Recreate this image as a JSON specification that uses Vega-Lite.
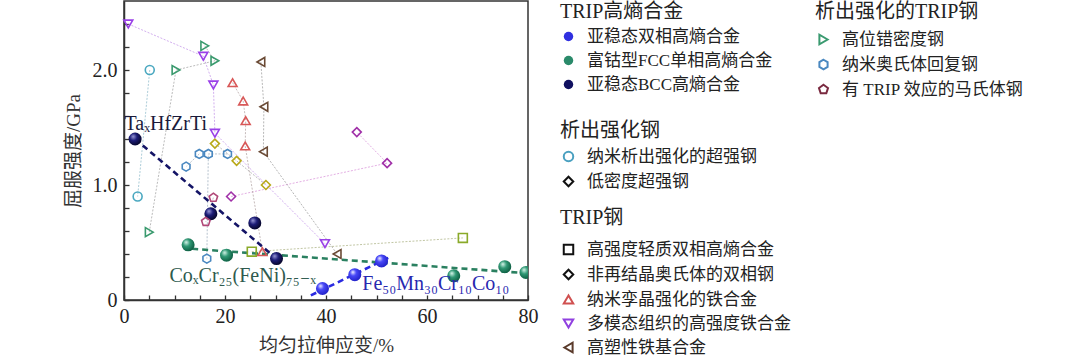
{
  "$schema": "https://vega.github.io/schema/vega-lite/v6.json",
  "width": 404,
  "height": 299,
  "autosize": {"type": "none"},
  "padding": {"left": 124, "top": 1, "right": 552, "bottom": 58},
  "background": "white",
  "config": {
    "view": {"stroke": "#333", "strokeWidth": 1.5},
    "font": "Liberation Serif, Noto Sans CJK SC",
    "axis": {"grid": false, "domainColor": "#333", "domainWidth": 1.5, "tickColor": "#333", "tickWidth": 1.3, "tickSize": -5, "labelFont": "Liberation Serif", "labelFontSize": 20, "labelColor": "#222", "titleFont": "Liberation Serif, Noto Sans CJK SC", "titleFontSize": 19, "titleFontWeight": "normal", "titleColor": "#333"},
    "legend": {"orient": "none", "titleFont": "Liberation Serif, Noto Sans CJK SC", "titleFontSize": 20, "titleFontWeight": "normal", "titleColor": "#222", "labelFont": "Liberation Serif, Noto Sans CJK SC", "labelFontSize": 17, "labelColor": "#222", "symbolStrokeWidth": 2, "symbolSize": 90, "rowPadding": 6, "labelOffset": 10, "padding": 0, "labelLimit": 400}
  },
  "datasets": {
    "pts": [
      {"group": "TRIP高熵合金", "category": "亚稳态双相高熵合金", "series": "", "seq": 1, "strain": 39.3, "strength": 0.10},
      {"group": "TRIP高熵合金", "category": "亚稳态双相高熵合金", "series": "", "seq": 2, "strain": 45.7, "strength": 0.22},
      {"group": "TRIP高熵合金", "category": "亚稳态双相高熵合金", "series": "", "seq": 3, "strain": 51.0, "strength": 0.34},
      {"group": "TRIP高熵合金", "category": "富钴型FCC单相高熵合金", "series": "", "seq": 1, "strain": 12.7, "strength": 0.48},
      {"group": "TRIP高熵合金", "category": "富钴型FCC单相高熵合金", "series": "", "seq": 2, "strain": 20.3, "strength": 0.39},
      {"group": "TRIP高熵合金", "category": "富钴型FCC单相高熵合金", "series": "", "seq": 3, "strain": 65.3, "strength": 0.21},
      {"group": "TRIP高熵合金", "category": "富钴型FCC单相高熵合金", "series": "", "seq": 4, "strain": 75.4, "strength": 0.29},
      {"group": "TRIP高熵合金", "category": "富钴型FCC单相高熵合金", "series": "", "seq": 5, "strain": 79.6, "strength": 0.24},
      {"group": "TRIP高熵合金", "category": "亚稳态BCC高熵合金", "series": "", "seq": 1, "strain": 2.2, "strength": 1.40},
      {"group": "TRIP高熵合金", "category": "亚稳态BCC高熵合金", "series": "", "seq": 2, "strain": 17.2, "strength": 0.75},
      {"group": "TRIP高熵合金", "category": "亚稳态BCC高熵合金", "series": "", "seq": 3, "strain": 25.9, "strength": 0.67},
      {"group": "TRIP高熵合金", "category": "亚稳态BCC高熵合金", "series": "", "seq": 4, "strain": 30.2, "strength": 0.36},
      {"group": "析出强化钢", "category": "纳米析出强化的超强钢", "series": "C1", "seq": 1, "strain": 5.1, "strength": 2.00},
      {"group": "析出强化钢", "category": "纳米析出强化的超强钢", "series": "C1", "seq": 2, "strain": 2.7, "strength": 0.90},
      {"group": "析出强化钢", "category": "低密度超强钢", "series": "D1", "seq": 1, "strain": 18.0, "strength": 1.36},
      {"group": "析出强化钢", "category": "低密度超强钢", "series": "D1", "seq": 2, "strain": 22.3, "strength": 1.21},
      {"group": "析出强化钢", "category": "低密度超强钢", "series": "D1", "seq": 3, "strain": 28.1, "strength": 1.00},
      {"group": "TRIP钢", "category": "高强度轻质双相高熵合金", "series": "S1", "seq": 1, "strain": 25.3, "strength": 0.42},
      {"group": "TRIP钢", "category": "高强度轻质双相高熵合金", "series": "S1", "seq": 2, "strain": 67.1, "strength": 0.54},
      {"group": "TRIP钢", "category": "非再结晶奥氏体的双相钢", "series": "P1", "seq": 1, "strain": 21.2, "strength": 0.90},
      {"group": "TRIP钢", "category": "非再结晶奥氏体的双相钢", "series": "P1", "seq": 2, "strain": 52.1, "strength": 1.19},
      {"group": "TRIP钢", "category": "非再结晶奥氏体的双相钢", "series": "P1", "seq": 3, "strain": 46.1, "strength": 1.46},
      {"group": "TRIP钢", "category": "纳米孪晶强化的铁合金", "series": "R1", "seq": 1, "strain": 21.5, "strength": 1.89},
      {"group": "TRIP钢", "category": "纳米孪晶强化的铁合金", "series": "R1", "seq": 2, "strain": 23.6, "strength": 1.73},
      {"group": "TRIP钢", "category": "纳米孪晶强化的铁合金", "series": "R1", "seq": 3, "strain": 24.1, "strength": 1.56},
      {"group": "TRIP钢", "category": "纳米孪晶强化的铁合金", "series": "R1", "seq": 4, "strain": 24.0, "strength": 1.34},
      {"group": "TRIP钢", "category": "纳米孪晶强化的铁合金", "series": "R1", "seq": 5, "strain": 27.4, "strength": 0.42},
      {"group": "TRIP钢", "category": "多模态组织的高强度铁合金", "series": "M1", "seq": 1, "strain": 0.85, "strength": 2.40},
      {"group": "TRIP钢", "category": "多模态组织的高强度铁合金", "series": "M1", "seq": 2, "strain": 15.7, "strength": 2.12},
      {"group": "TRIP钢", "category": "多模态组织的高强度铁合金", "series": "M1", "seq": 3, "strain": 17.7, "strength": 1.87},
      {"group": "TRIP钢", "category": "多模态组织的高强度铁合金", "series": "M1", "seq": 4, "strain": 18.0, "strength": 1.45},
      {"group": "TRIP钢", "category": "多模态组织的高强度铁合金", "series": "M1", "seq": 5, "strain": 39.8, "strength": 0.49},
      {"group": "TRIP钢", "category": "高塑性铁基合金", "series": "B1", "seq": 1, "strain": 27.1, "strength": 2.07},
      {"group": "TRIP钢", "category": "高塑性铁基合金", "series": "B1", "seq": 2, "strain": 27.7, "strength": 1.68},
      {"group": "TRIP钢", "category": "高塑性铁基合金", "series": "B1", "seq": 3, "strain": 27.6, "strength": 1.29},
      {"group": "TRIP钢", "category": "高塑性铁基合金", "series": "B1", "seq": 4, "strain": 42.2, "strength": 0.40},
      {"group": "析出强化的TRIP钢", "category": "高位错密度钢", "series": "G1", "seq": 1, "strain": 5.0, "strength": 0.59},
      {"group": "析出强化的TRIP钢", "category": "高位错密度钢", "series": "G1", "seq": 2, "strain": 10.3, "strength": 2.00},
      {"group": "析出强化的TRIP钢", "category": "高位错密度钢", "series": "G1", "seq": 3, "strain": 18.0, "strength": 2.08},
      {"group": "析出强化的TRIP钢", "category": "高位错密度钢", "series": "G1", "seq": 4, "strain": 16.0, "strength": 2.21},
      {"group": "析出强化的TRIP钢", "category": "纳米奥氏体回复钢", "series": "H1", "seq": 1, "strain": 20.5, "strength": 1.27},
      {"group": "析出强化的TRIP钢", "category": "纳米奥氏体回复钢", "series": "H1", "seq": 2, "strain": 16.7, "strength": 1.27},
      {"group": "析出强化的TRIP钢", "category": "纳米奥氏体回复钢", "series": "H1", "seq": 3, "strain": 16.4, "strength": 0.36},
      {"group": "析出强化的TRIP钢", "category": "纳米奥氏体回复钢", "series": "H2", "seq": 1, "strain": 14.9, "strength": 1.27},
      {"group": "析出强化的TRIP钢", "category": "纳米奥氏体回复钢", "series": "H2", "seq": 2, "strain": 12.3, "strength": 1.16},
      {"group": "析出强化的TRIP钢", "category": "有 TRIP 效应的马氏体钢", "series": "T1", "seq": 1, "strain": 17.7, "strength": 0.89},
      {"group": "析出强化的TRIP钢", "category": "有 TRIP 效应的马氏体钢", "series": "T1", "seq": 2, "strain": 16.2, "strength": 0.68}
    ],
    "fit": [
      {"alloy": "BCC", "seq": 1, "strain": 2.2, "strength": 1.40},
      {"alloy": "BCC", "seq": 2, "strain": 30.2, "strength": 0.36},
      {"alloy": "FCC", "seq": 1, "strain": 13.5, "strength": 0.445},
      {"alloy": "FCC", "seq": 2, "strain": 80.0, "strength": 0.232},
      {"alloy": "DP", "seq": 1, "strain": 37.0, "strength": 0.04},
      {"alloy": "DP", "seq": 2, "strain": 52.5, "strength": 0.37}
    ],
    "ann": [
      {"label": "TaₓHfZrTi", "kind": "BCC", "strain": 0.1, "strength": 1.53},
      {"label": "CoₓCr₂₅(FeNi)₇₅₋ₓ", "kind": "FCC", "strain": 9.0, "strength": 0.21},
      {"label": "Fe₅₀Mn₃₀Cr₁₀Co₁₀", "kind": "DP", "strain": 47.2, "strength": 0.135}
    ]
  },
  "encoding": {
    "x": {"field": "strain", "type": "quantitative", "scale": {"domain": [0, 80], "nice": false, "zero": false},
      "axis": {"title": "均匀拉伸应变/%", "values": [0, 5, 10, 15, 20, 25, 30, 35, 40, 45, 50, 55, 60, 65, 70, 75, 80], "labelExpr": "datum.value % 20 === 0 ? datum.label : ''", "labelFlush": false, "labelPadding": 11, "titleX": 202, "titleY": 45, "titleAlign": "center", "titleBaseline": "middle"}},
    "y": {"field": "strength", "type": "quantitative", "scale": {"domain": [0, 2.6], "nice": false, "zero": false},
      "axis": {"title": "屈服强度/GPa", "values": [0, 0.2, 0.4, 0.6, 0.8, 1.0, 1.2, 1.4, 1.6, 1.8, 2.0, 2.2, 2.4], "labelExpr": "datum.value === 0 ? '0' : (abs(datum.value - 1) < 0.001 || abs(datum.value - 2) < 0.001) ? format(datum.value, '.1f') : ''", "labelFlush": false, "labelPadding": 12, "titleX": -51, "titleY": 149.5, "titleAlign": "center", "titleBaseline": "middle", "titleAngle": -90}}
  },
  "layer": [
    {
      "data": {"name": "pts"},
      "transform": [{"filter": "datum.series !== ''"}],
      "mark": {"type": "line", "strokeWidth": 0.8, "strokeDash": [2, 1.5], "opacity": 0.9},
      "encoding": {
        "order": {"field": "seq", "type": "quantitative"},
        "stroke": {"field": "series", "type": "nominal", "legend": null,
          "scale": {"domain": ["C1", "D1", "S1", "P1", "R1", "M1", "B1", "G1", "H1", "H2", "T1"],
            "range": ["#8ab8c8", "#a0a0a0", "#a8b080", "#d890d8", "#b0a0a0", "#c090e8", "#999999", "#a0a0a0", "#99aabb", "#99aabb", "#b0a0b0"]}}
      }
    },
    {
      "data": {"name": "fit"},
      "mark": {"type": "line", "strokeWidth": 2.6, "strokeDash": [6, 4]},
      "encoding": {
        "order": {"field": "seq", "type": "quantitative"},
        "stroke": {"field": "alloy", "type": "nominal", "legend": null,
          "scale": {"domain": ["BCC", "FCC", "DP"], "range": ["#141466", "#2a8060", "#2a2ae0"]}}
      }
    },
    {
      "data": {"name": "pts"},
      "transform": [{"filter": "datum.group === 'TRIP高熵合金'"}],
      "mark": {"type": "point", "filled": true, "shape": "circle", "size": 170, "opacity": 1, "clip": true, "strokeWidth": 0},
      "encoding": {
        "fill": {
          "condition": [
            {"test": "datum.category === '亚稳态双相高熵合金'", "value": {"gradient": "radial", "x1": 0.35, "y1": 0.3, "r1": 0, "x2": 0.4, "y2": 0.4, "r2": 0.62, "stops": [{"offset": 0, "color": "#f0f0ff"}, {"offset": 0.4, "color": "#4848f8"}, {"offset": 1, "color": "#2222c8"}]}},
            {"test": "datum.category === '富钴型FCC单相高熵合金'", "value": {"gradient": "radial", "x1": 0.35, "y1": 0.3, "r1": 0, "x2": 0.4, "y2": 0.4, "r2": 0.62, "stops": [{"offset": 0, "color": "#d8f5ea"}, {"offset": 0.45, "color": "#2f9874"}, {"offset": 1, "color": "#0e5e42"}]}}
          ],
          "value": {"gradient": "radial", "x1": 0.35, "y1": 0.3, "r1": 0, "x2": 0.4, "y2": 0.4, "r2": 0.62, "stops": [{"offset": 0, "color": "#9a9ad8"}, {"offset": 0.45, "color": "#1c1c78"}, {"offset": 1, "color": "#060628"}]}
        }
      }
    },
    {
      "data": {"name": "pts"},
      "transform": [{"filter": "datum.group === '析出强化钢'"}],
      "mark": {"type": "point", "filled": false, "size": 80, "opacity": 1, "strokeWidth": 1.6},
      "encoding": {
        "shape": {"field": "category", "type": "nominal", "legend": null,
          "scale": {"domain": ["纳米析出强化的超强钢", "低密度超强钢"], "range": ["circle", "diamond"]}},
        "color": {"field": "category", "type": "nominal", "legend": null,
          "scale": {"domain": ["纳米析出强化的超强钢", "低密度超强钢"], "range": ["#4aa8c0", "#b8a818"]}}
      }
    },
    {
      "data": {"name": "pts"},
      "transform": [{"filter": "datum.group === 'TRIP钢'"}],
      "mark": {"type": "point", "filled": false, "size": 80, "opacity": 1, "strokeWidth": 1.6},
      "encoding": {
        "shape": {"field": "category", "type": "nominal", "legend": null,
          "scale": {"domain": ["高强度轻质双相高熵合金", "非再结晶奥氏体的双相钢", "纳米孪晶强化的铁合金", "多模态组织的高强度铁合金", "高塑性铁基合金"], "range": ["square", "diamond", "triangle-up", "triangle-down", "triangle-left"]}},
        "color": {"field": "category", "type": "nominal", "legend": null,
          "scale": {"domain": ["高强度轻质双相高熵合金", "非再结晶奥氏体的双相钢", "纳米孪晶强化的铁合金", "多模态组织的高强度铁合金", "高塑性铁基合金"], "range": ["#8aaa2a", "#a030a8", "#d85858", "#9a40e8", "#6a4a35"]}}
      }
    },
    {
      "data": {"name": "pts"},
      "transform": [{"filter": "datum.group === '析出强化的TRIP钢'"}],
      "mark": {"type": "point", "filled": false, "size": 80, "opacity": 1, "strokeWidth": 1.6},
      "encoding": {
        "shape": {"field": "category", "type": "nominal", "legend": null,
          "scale": {"domain": ["高位错密度钢", "纳米奥氏体回复钢", "有 TRIP 效应的马氏体钢"], "range": ["triangle-right", "M0,-1L0.866,-0.5L0.866,0.5L0,1L-0.866,0.5L-0.866,-0.5Z", "M0,-1L0.951,-0.309L0.588,0.809L-0.588,0.809L-0.951,-0.309Z"]}},
        "color": {"field": "category", "type": "nominal", "legend": null,
          "scale": {"domain": ["高位错密度钢", "纳米奥氏体回复钢", "有 TRIP 效应的马氏体钢"], "range": ["#3a9a6e", "#4a88c0", "#b04878"]}}
      }
    },
    {
      "data": {"name": "ann"},
      "mark": {"type": "text", "align": "left", "baseline": "middle", "fontSize": 20, "font": "Liberation Serif, DejaVu Serif"},
      "encoding": {
        "text": {"field": "label", "type": "nominal"},
        "color": {"field": "kind", "type": "nominal", "legend": null,
          "scale": {"domain": ["BCC", "FCC", "DP"], "range": ["#1a1a3a", "#2e5a4e", "#2828b0"]}}
      }
    },
    {
      "data": {"name": "pts"},
      "transform": [{"filter": "false"}],
      "mark": {"type": "point", "filled": true, "size": 110, "opacity": 1},
      "encoding": {
        "shape": {"field": "category", "type": "nominal",
          "scale": {"domain": ["亚稳态双相高熵合金", "富钴型FCC单相高熵合金", "亚稳态BCC高熵合金"], "range": ["circle", "circle", "circle"]},
          "legend": {"title": "TRIP高熵合金", "legendX": 436, "legendY": 1, "titlePadding": 6,
            "encode": {"labels": {"update": {"fill": {"signal": "datum.value === '亚稳态双相高熵合金' ? '#5555c8' : datum.value === '富钴型FCC单相高熵合金' ? '#4a8a78' : '#222'"}}}}}},
        "color": {"field": "category", "type": "nominal",
          "scale": {"domain": ["亚稳态双相高熵合金", "富钴型FCC单相高熵合金", "亚稳态BCC高熵合金"], "range": ["#2f2fe0", "#2a8a6a", "#101060"]},
          "legend": {"title": "TRIP高熵合金", "legendX": 436, "legendY": 1, "titlePadding": 6,
            "encode": {"labels": {"update": {"fill": {"signal": "datum.value === '亚稳态双相高熵合金' ? '#5555c8' : datum.value === '富钴型FCC单相高熵合金' ? '#4a8a78' : '#222'"}}}}}}
      }
    },
    {
      "data": {"name": "pts"},
      "transform": [{"filter": "false"}],
      "mark": {"type": "point", "filled": false, "size": 80, "opacity": 1, "strokeWidth": 1.6},
      "encoding": {
        "shape": {"field": "category", "type": "nominal",
          "scale": {"domain": ["纳米析出强化的超强钢", "低密度超强钢"], "range": ["circle", "diamond"]},
          "legend": {"title": "析出强化钢", "legendX": 436, "legendY": 120, "titlePadding": 7,
            "encode": {"labels": {"update": {"fill": {"signal": "datum.value === '纳米析出强化的超强钢' ? '#5a80a0' : '#222'"}}}}}},
        "color": {"field": "category", "type": "nominal",
          "scale": {"domain": ["纳米析出强化的超强钢", "低密度超强钢"], "range": ["#4aa0c0", "#111111"]},
          "legend": {"title": "析出强化钢", "legendX": 436, "legendY": 120, "titlePadding": 7,
            "encode": {"labels": {"update": {"fill": {"signal": "datum.value === '纳米析出强化的超强钢' ? '#5a80a0' : '#222'"}}}}}}
      }
    },
    {
      "data": {"name": "pts"},
      "transform": [{"filter": "false"}],
      "mark": {"type": "point", "filled": false, "size": 80, "opacity": 1, "strokeWidth": 1.6},
      "encoding": {
        "shape": {"field": "category", "type": "nominal",
          "scale": {"domain": ["高强度轻质双相高熵合金", "非再结晶奥氏体的双相钢", "纳米孪晶强化的铁合金", "多模态组织的高强度铁合金", "高塑性铁基合金"], "range": ["square", "diamond", "triangle-up", "triangle-down", "triangle-left"]},
          "legend": {"title": "TRIP钢", "legendX": 436, "legendY": 207, "titlePadding": 13,
            "encode": {"labels": {"update": {"fill": {"signal": "datum.value === '纳米孪晶强化的铁合金' ? '#b05858' : datum.value === '多模态组织的高强度铁合金' ? '#8a55cc' : '#222'"}}}}}},
        "color": {"field": "category", "type": "nominal",
          "scale": {"domain": ["高强度轻质双相高熵合金", "非再结晶奥氏体的双相钢", "纳米孪晶强化的铁合金", "多模态组织的高强度铁合金", "高塑性铁基合金"], "range": ["#111111", "#111111", "#d05050", "#9040e0", "#5a3a2a"]},
          "legend": {"title": "TRIP钢", "legendX": 436, "legendY": 207, "titlePadding": 13,
            "encode": {"labels": {"update": {"fill": {"signal": "datum.value === '纳米孪晶强化的铁合金' ? '#b05858' : datum.value === '多模态组织的高强度铁合金' ? '#8a55cc' : '#222'"}}}}}}
      }
    },
    {
      "data": {"name": "pts"},
      "transform": [{"filter": "false"}],
      "mark": {"type": "point", "filled": false, "size": 80, "opacity": 1, "strokeWidth": 1.6},
      "encoding": {
        "shape": {"field": "category", "type": "nominal",
          "scale": {"domain": ["高位错密度钢", "纳米奥氏体回复钢", "有 TRIP 效应的马氏体钢"], "range": ["triangle-right", "M0,-1L0.866,-0.5L0.866,0.5L0,1L-0.866,0.5L-0.866,-0.5Z", "M0,-1L0.951,-0.309L0.588,0.809L-0.588,0.809L-0.951,-0.309Z"]},
          "legend": {"title": "析出强化的TRIP钢", "legendX": 691, "legendY": 1, "titlePadding": 9,
            "encode": {"labels": {"update": {"fill": {"signal": "datum.value === '高位错密度钢' ? '#4a7a6a' : datum.value === '纳米奥氏体回复钢' ? '#4a6ab0' : '#222'"}}}}}},
        "color": {"field": "category", "type": "nominal",
          "scale": {"domain": ["高位错密度钢", "纳米奥氏体回复钢", "有 TRIP 效应的马氏体钢"], "range": ["#3a9a70", "#4a88c0", "#7a2a40"]},
          "legend": {"title": "析出强化的TRIP钢", "legendX": 691, "legendY": 1, "titlePadding": 9,
            "encode": {"labels": {"update": {"fill": {"signal": "datum.value === '高位错密度钢' ? '#4a7a6a' : datum.value === '纳米奥氏体回复钢' ? '#4a6ab0' : '#222'"}}}}}}
      }
    }
  ],
  "resolve": {
    "scale": {"color": "independent", "shape": "independent", "stroke": "independent"},
    "legend": {"color": "independent", "shape": "independent"}
  }
}
